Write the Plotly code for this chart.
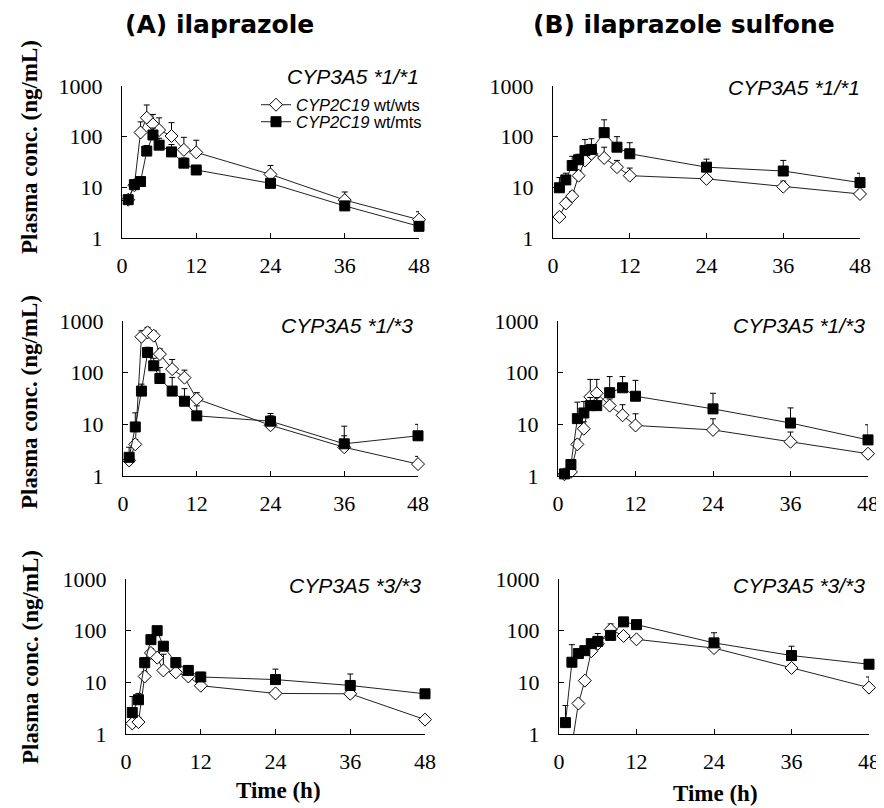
import plotly.graph_objects as go

# page has an 8px body margin; figure sized to fit the 884x808 window
OFF = 8
W, H = 884 - OFF, 808 - OFF

time_h = [1, 2, 3, 4, 5, 6, 8, 10, 12, 24, 36, 48]

# (A) ilaprazole
a11_wts = [5.7, 11, 121, 237, 175, 135, 103, 55, 49, 18, 5.6, 2.3]
a11_wts_sd = [1.3, 2, 75, 185, 100, 100, 86, 42, 36, 9, 2.5, 1.0]
a11_mts = [5.7, 11.3, 13, 52, 108, 68, 50, 30, 22, 12, 4.3, 1.7]
a11_mts_sd = [0.8, 1.5, 2, 15, 40, 25, 20, 8, 4, 2.5, 0.8, 0.4]

a13_wts = [2.0, 4.1, 496, 602, 519, 229, 117, 80, 31, 9.6, 3.6, 1.7]
a13_wts_sd = [0.5, 1, 150, 150, 120, 60, 63, 32, 10, 5, 2.4, 0.7]
a13_mts = [2.3, 8.9, 44, 246, 136, 77, 44, 28, 14.6, 11.5, 4.2, 6.0]
a13_mts_sd = [1.3, 7.8, 16, 64, 54, 49, 37, 21, 8.2, 4.7, 5.0, 4.0]

a33_wts = [1.6, 1.7, 13, 37, 30, 17, 15.6, 13, 8.6, 6.1, 6.0, 1.9]
a33_wts_sd = [0.3, 0.4, 3, 8, 8, 18, 3, 3, 1.5, 1, 1, 0.3]
a33_mts = [2.6, 4.6, 24, 67, 100, 50, 24, 17, 12.7, 11.3, 8.7, 6.0]
a33_mts_sd = [2.7, 1.5, 6, 12, 20, 10, 6, 4, 2.9, 6.7, 5.8, 0.2]

# (B) ilaprazole sulfone
b11_wts = [2.6, 4.8, 6.7, 17, 34, 46, 38, 25, 17, 14.7, 10.3, 7.4]
b11_wts_sd = [0.5, 1, 1.5, 4, 8, 12, 24, 9, 7, 2, 3, 1.5]
b11_mts = [9.8, 14, 27, 35, 53, 56, 120, 62, 46, 25, 21, 12.4]
b11_mts_sd = [5.8, 5, 14, 10, 35, 35, 95, 38, 30, 11, 13, 6.6]

b13_wts = [1.08, 1.2, 4.1, 8.2, 34, 40, 23, 15, 9.5, 7.8, 4.6, 2.7]
b13_wts_sd = [0.1, 0.2, 1, 3, 40, 34, 8, 9, 6.5, 5, 2.5, 0.5]
b13_mts = [1.1, 1.67, 12.9, 16.6, 23, 23, 41, 51, 35, 19.9, 10.6, 5.0]
b13_mts_sd = [0.2, 0.3, 14, 11, 10, 10, 43, 33, 36, 20, 10.2, 4.8]

b33_wts = [0.4, 0.6, 3.9, 10.8, 40, 56, 105, 79, 68, 46, 19, 7.9]
b33_wts_sd = [0, 0, 0.5, 1, 8, 10, 30, 8, 6, 5, 3, 4.8]
b33_mts = [1.66, 24.5, 36, 41, 56, 62, 81, 148, 131, 58, 33, 22.4]
b33_mts_sd = [1.9, 29, 6, 6, 8, 26, 13, 15, 11, 33, 17, 0.6]

x_ticks = [0, 12, 24, 36, 48]
y_ticks = [1, 10, 100, 1000]
y_ticktext = ["1", "10", "100", "1000"]

column_titles = ["(A) ilaprazole", "(B) ilaprazole sulfone"]
genotype_labels = ["CYP3A5 *1/*1", "CYP3A5 *1/*3", "CYP3A5 *3/*3"]
series_names = ["<i>CYP2C19</i> wt/wts", "<i>CYP2C19</i> wt/mts"]
y_title = "Plasma conc. (ng/mL)"
x_title = "Time (h)"

panels = [
    (a11_wts, a11_wts_sd, a11_mts, a11_mts_sd),
    (b11_wts, b11_wts_sd, b11_mts, b11_mts_sd),
    (a13_wts, a13_wts_sd, a13_mts, a13_mts_sd),
    (b13_wts, b13_wts_sd, b13_mts, b13_mts_sd),
    (a33_wts, a33_wts_sd, a33_mts, a33_mts_sd),
    (b33_wts, b33_wts_sd, b33_mts, b33_mts_sd),
]

# pixel layout in window coords (left, right) / (top, bottom)
x_px = [(122, 419), (553, 860), (123, 418), (558, 868), (126, 425), (559, 869)]
y_px = [(86, 238), (86, 238), (321, 476), (321, 476), (579, 734), (579, 734)]


def px_x(p):
    return (p - OFF) / W


def px_y(p):
    return 1 - (p - OFF) / H


SERIF = "Liberation Serif, Times New Roman, serif"
SANS = "Liberation Sans, Arial, sans-serif"

fig = go.Figure()

for i, (wts, wts_sd, mts, mts_sd) in enumerate(panels):
    n = i + 1
    xa = "x" if n == 1 else f"x{n}"
    ya = "y" if n == 1 else f"y{n}"
    fig.add_trace(go.Scatter(
        x=time_h, y=wts, mode="lines+markers", name=series_names[0],
        xaxis=xa, yaxis=ya, showlegend=(i == 0), legend="legend",
        cliponaxis=False,
        line=dict(color="#222222", width=1),
        marker=dict(symbol="diamond", size=10, color="white",
                    line=dict(color="black", width=1)),
        error_y=dict(type="data", symmetric=False, array=wts_sd,
                     arrayminus=[0] * len(wts_sd), color="black",
                     thickness=1, width=3),
    ))
    fig.add_trace(go.Scatter(
        x=time_h, y=mts, mode="lines+markers", name=series_names[1],
        xaxis=xa, yaxis=ya, showlegend=(i == 0), legend="legend2",
        cliponaxis=False,
        line=dict(color="#222222", width=1),
        marker=dict(symbol="square", size=10, color="black",
                    line=dict(color="black", width=1)),
        error_y=dict(type="data", symmetric=False, array=mts_sd,
                     arrayminus=[0] * len(mts_sd), color="black",
                     thickness=1, width=3),
    ))

    key_x = "xaxis" if n == 1 else f"xaxis{n}"
    key_y = "yaxis" if n == 1 else f"yaxis{n}"
    l, r = x_px[i]
    t, b = y_px[i]
    fig.layout[key_x] = dict(
        domain=[px_x(l), px_x(r)], range=[0, 48], anchor=ya,
        tickvals=x_ticks, ticks="inside", ticklen=5, tickcolor="black",
        showline=True, linecolor="black", linewidth=1, showgrid=False,
        zeroline=False, ticklabelstandoff=8, automargin=False,
        tickfont=dict(family=SERIF, size=22, color="black"),
    )
    fig.layout[key_y] = dict(
        domain=[px_y(b), px_y(t)], type="log", range=[0, 3], anchor=xa,
        tickvals=y_ticks, ticktext=y_ticktext, ticks="inside", ticklen=5,
        tickcolor="black", showline=True, linecolor="black", linewidth=1,
        showgrid=False, zeroline=False, ticklabelstandoff=14, automargin=False,
        tickfont=dict(family=SERIF, size=22, color="black"),
    )

ann = []
P = dict(xref="paper", yref="paper", showarrow=False)
# column titles
ann.append(dict(x=px_x(219), y=px_y(25), text=column_titles[0],
                xanchor="center", yanchor="middle",
                font=dict(family="DejaVu Sans", size=25, color="black", weight="bold"), **P))
ann.append(dict(x=px_x(684), y=px_y(24), text=column_titles[1],
                xanchor="center", yanchor="middle",
                font=dict(family="DejaVu Sans", size=25, color="black", weight="bold"), **P))
# genotype labels
lab_pos = [(421, 77), (862, 88), (415, 325), (867, 325), (423, 585), (867, 585)]
for i, (lx, ly) in enumerate(lab_pos):
    ann.append(dict(x=px_x(lx), y=px_y(ly), text=f"<i>{genotype_labels[i // 2]}</i>",
                    xanchor="right", yanchor="middle",
                    font=dict(family=SANS, size=21, color="black"), **P))
# y titles
for cy in [147, 402, 657]:
    ann.append(dict(x=px_x(30), y=px_y(cy), text=f"<b>{y_title}</b>",
                    textangle=-90, xanchor="center", yanchor="middle",
                    font=dict(family=SERIF, size=23, color="black"), **P))
# x titles
for cx, cy in [(278, 790), (715, 793)]:
    ann.append(dict(x=px_x(cx), y=px_y(cy), text=f"<b>{x_title}</b>",
                    xanchor="center", yanchor="middle",
                    font=dict(family=SERIF, size=23, color="black"), **P))

leg_common = dict(xanchor="left", yanchor="middle", bgcolor="rgba(0,0,0,0)",
                  font=dict(family=SANS, size=16.5, color="black"),
                  itemwidth=30)

fig.update_layout(
    width=W, height=H,
    margin=dict(l=0, r=0, t=0, b=0, pad=0, autoexpand=False),
    paper_bgcolor="white", plot_bgcolor="white",
    annotations=ann,
    legend=dict(x=px_x(256), y=px_y(105), **leg_common),
    legend2=dict(x=px_x(256), y=px_y(122), **leg_common),
)

fig.write_html("out.html")
